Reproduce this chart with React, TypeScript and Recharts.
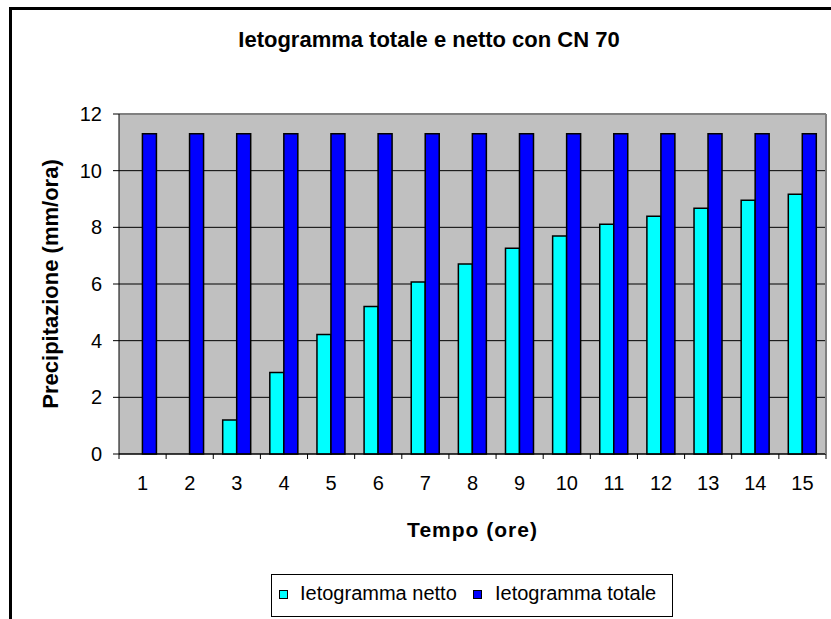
import React from 'react';
import {
    BarChart,
    Bar,
    XAxis,
    YAxis,
    CartesianGrid,
    ReferenceLine
} from 'recharts';

// Dati
const tempi = ['1', '2', '3', '4', '5', '6', '7', '8', '9', '10', '11', '12', '13', '14', '15'];
const ietoNetto = [0, 0, 1.2, 2.88, 4.22, 5.21, 6.07, 6.71, 7.26, 7.69, 8.11, 8.39, 8.67, 8.96, 9.17];
const ietoTotale = [11.3, 11.3, 11.3, 11.3, 11.3, 11.3, 11.3, 11.3, 11.3, 11.3, 11.3, 11.3, 11.3, 11.3, 11.3];
const yTicks = [0, 2, 4, 6, 8, 10, 12];

const FONT = 'Arial, "Liberation Sans", sans-serif';
const W = 831;
const H = 619;
const Y_AXIS_W = 119;
const RIGHT_AXIS_W = 1;
const MARGIN = { top: 114, right: 4, left: 0, bottom: 75 };
const X_AXIS_H = 90;
const PLOT_BOTTOM = H - MARGIN.bottom - X_AXIS_H;
const BAND = (W - MARGIN.left - Y_AXIS_W - MARGIN.right - RIGHT_AXIS_W) / tempi.length;

const chartData = tempi.map((t, i) => ({
    tempo: t,
    netto: ietoNetto[i],
    totale: ietoTotale[i]
}));

// tick tra le categorie, come in Excel
const XTick = (props: any) => {
    const { x, index, payload } = props;
    return (
        <g>
            {index === 0 && (
                <line x1={x - BAND / 2} x2={x - BAND / 2} y1={PLOT_BOTTOM} y2={PLOT_BOTTOM + 5} stroke="#000" />
            )}
            <line x1={x + BAND / 2} x2={x + BAND / 2} y1={PLOT_BOTTOM} y2={PLOT_BOTTOM + 5} stroke="#000" />
            <text x={x} y={PLOT_BOTTOM + 36} textAnchor="middle" fontSize={20} fontFamily={FONT} fill="#000">
                {payload.value}
            </text>
        </g>
    );
};

const YTitle = (props: any) => {
    const { viewBox } = props;
    const cy = viewBox.y + viewBox.height / 2;
    return (
        <text
            x={58}
            y={cy}
            transform={`rotate(-90, 58, ${cy})`}
            textAnchor="middle"
            fontSize={22}
            fontWeight="bold"
            fontFamily={FONT}
            fill="#000"
        >
            Precipitazione (mm/ora)
        </text>
    );
};

const XTitle = (props: any) => {
    const { viewBox } = props;
    return (
        <text
            x={viewBox.x + viewBox.width / 2}
            y={PLOT_BOTTOM + 83}
            textAnchor="middle"
            fontSize={21}
            fontWeight="bold"
            fontFamily={FONT}
            letterSpacing={1}
            fill="#000"
        >
            Tempo (ore)
        </text>
    );
};

const Swatch = ({ color, left }: { color: string; left: number }) => (
    <div
        style={{
            position: 'absolute',
            left,
            top: 15,
            width: 9,
            height: 9,
            boxSizing: 'border-box',
            border: '1px solid #000',
            background: color
        }}
    />
);

export default function App() {
    return (
        <div style={{ position: 'absolute', left: 0, top: 0, width: W, height: H, fontFamily: FONT }}>
            <div
                style={{
                    position: 'absolute',
                    left: 9,
                    top: 7,
                    width: W - 9,
                    height: H - 7,
                    boxSizing: 'border-box',
                    borderLeft: '3px solid #000',
                    borderTop: '3px solid #000'
                }}
            />
            <div
                style={{
                    position: 'absolute',
                    left: 0,
                    top: 29,
                    width: 858,
                    textAlign: 'center',
                    fontSize: 22,
                    lineHeight: '22px',
                    fontWeight: 'bold'
                }}
            >
                Ietogramma totale e netto con CN 70
            </div>
            <div style={{ position: 'absolute', left: 0, top: 0 }}>
                <BarChart
                    width={W}
                    height={H}
                    data={chartData}
                    margin={MARGIN}
                    barCategoryGap="20%"
                    barGap={0}
                >
                    <CartesianGrid vertical={false} stroke="#000" fill="#C0C0C0" fillOpacity={1} />
                    <XAxis
                        dataKey="tempo"
                        height={X_AXIS_H}
                        interval={0}
                        axisLine={{ stroke: '#000' }}
                        tickLine={false}
                        tick={<XTick />}
                        label={<XTitle />}
                    />
                    <YAxis
                        width={Y_AXIS_W}
                        domain={[0, 12]}
                        ticks={yTicks}
                        interval={0}
                        axisLine={{ stroke: '#000' }}
                        tickLine={{ stroke: '#000' }}
                        tickSize={6}
                        tickMargin={11}
                        tick={{ fontSize: 20, fill: '#000', fontFamily: FONT }}
                        label={<YTitle />}
                    />
                    <YAxis
                        yAxisId="right"
                        orientation="right"
                        width={RIGHT_AXIS_W}
                        domain={[0, 12]}
                        tick={false}
                        tickLine={false}
                        axisLine={{ stroke: '#808080', strokeWidth: 2 }}
                    />
                    <ReferenceLine y={12} stroke="#808080" strokeWidth={2} />
                    <Bar
                        dataKey="netto"
                        name="Ietogramma netto"
                        fill="#00FFFF"
                        stroke="#000"
                        strokeWidth={1.5}
                        isAnimationActive={false}
                    />
                    <Bar
                        dataKey="totale"
                        name="Ietogramma totale"
                        fill="#0000FF"
                        stroke="#000"
                        strokeWidth={1.5}
                        isAnimationActive={false}
                    />
                </BarChart>
            </div>
            <div
                style={{
                    position: 'absolute',
                    left: 271,
                    top: 574,
                    width: 402,
                    height: 43,
                    boxSizing: 'border-box',
                    border: '1px solid #000',
                    fontSize: 20,
                    lineHeight: '20px'
                }}
            >
                <Swatch color="#00FFFF" left={7} />
                <span style={{ position: 'absolute', left: 28, top: 8, whiteSpace: 'nowrap' }}>Ietogramma netto</span>
                <Swatch color="#0000FF" left={201} />
                <span style={{ position: 'absolute', left: 223, top: 8, whiteSpace: 'nowrap' }}>Ietogramma totale</span>
            </div>
        </div>
    );
}
